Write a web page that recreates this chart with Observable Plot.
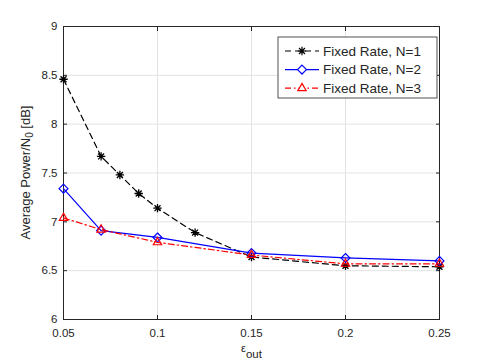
<!DOCTYPE html>
<html>
<head>
<meta charset="utf-8">
<script src="https://cdn.jsdelivr.net/npm/d3@7"></script>
<script src="https://cdn.jsdelivr.net/npm/@observablehq/plot@0.6"></script>
<style>
  html, body { margin: 0; padding: 0; background: #fff; }
  #chart svg { display: block; }
</style>
</head>
<body>
<div id="chart"></div>
<script>
// ---- data ----
const eps1 = [0.05, 0.07, 0.08, 0.09, 0.10, 0.12, 0.15, 0.20, 0.25];
const power1 = [8.46, 7.67, 7.48, 7.29, 7.14, 6.89, 6.64, 6.55, 6.54];
const eps2 = [0.05, 0.07, 0.10, 0.15, 0.20, 0.25];
const power2 = [7.34, 6.91, 6.84, 6.68, 6.63, 6.60];
const eps3 = [0.05, 0.07, 0.10, 0.15, 0.20, 0.25];
const power3 = [7.04, 6.92, 6.79, 6.66, 6.57, 6.57];
const seriesNames = ["Fixed Rate, N=1", "Fixed Rate, N=2", "Fixed Rate, N=3"];
const xTicks = [0.05, 0.1, 0.15, 0.2, 0.25];
const yTicks = [6, 6.5, 7, 7.5, 8, 8.5, 9];

const s1 = eps1.map((e, i) => ({x: e, y: power1[i]}));
const s2 = eps2.map((e, i) => ({x: e, y: power2[i]}));
const s3 = eps3.map((e, i) => ({x: e, y: power3[i]}));

// 8-arm asterisk (MATLAB '*')
const asterisk = {
  draw(context, size) {
    const r = Math.sqrt(size / Math.PI);
    for (let k = 0; k < 4; k++) {
      const a = k * Math.PI / 4;
      const dx = r * Math.cos(a), dy = r * Math.sin(a);
      context.moveTo(-dx, -dy);
      context.lineTo(dx, dy);
    }
  }
};

const axisColor = "#262626";
const W = 485, H = 363;
const mL = 63, mR = 46, mT = 26, mB = 44;

const chart = Plot.plot({
  width: W,
  height: H,
  marginLeft: mL,
  marginRight: mR,
  marginTop: mT,
  marginBottom: mB,
  style: {fontFamily: "Liberation Sans, Arial, sans-serif", fontSize: "11.5px", color: axisColor, background: "#fff"},
  x: {domain: [0.05, 0.25], ticks: xTicks, label: null},
  y: {domain: [6, 9], ticks: yTicks, label: null},
  marks: [
    Plot.gridX(xTicks, {stroke: "#e3e3e3", strokeOpacity: 1}),
    Plot.gridY(yTicks, {stroke: "#e3e3e3", strokeOpacity: 1}),
    Plot.frame({stroke: axisColor, strokeWidth: 1}),
    Plot.axisX(xTicks, {anchor: "bottom", tickSize: 0, tickPadding: 9, tickFormat: d => String(d), label: null, fill: axisColor}),
    Plot.axisX(xTicks, {anchor: "bottom", tickSize: -4, tickFormat: () => "", label: null, stroke: axisColor}),
    Plot.axisX(xTicks, {anchor: "top", tickSize: -4, tickFormat: () => "", label: null, stroke: axisColor}),
    Plot.axisY(yTicks, {anchor: "left", tickSize: 0, tickPadding: 6, tickFormat: d => String(d), label: null, fill: axisColor}),
    Plot.axisY(yTicks, {anchor: "left", tickSize: -4, tickFormat: () => "", label: null, stroke: axisColor}),
    Plot.axisY(yTicks, {anchor: "right", tickSize: -4, tickFormat: () => "", label: null, stroke: axisColor}),
    // N=1
    Plot.line(s1, {x: "x", y: "y", stroke: "#000", strokeWidth: 1.2, strokeDasharray: "6,4"}),
    Plot.dot(s1, {x: "x", y: "y", symbol: asterisk, r: 4.2, stroke: "#000", strokeWidth: 1.3, fill: "none"}),
    // N=2
    Plot.line(s2, {x: "x", y: "y", stroke: "#0000ff", strokeWidth: 1.2}),
    Plot.dot(s2, {x: "x", y: "y", symbol: "diamond2", r: 4, stroke: "#0000ff", strokeWidth: 1.2, fill: "none"}),
    // N=3
    Plot.line(s3, {x: "x", y: "y", stroke: "#ff0000", strokeWidth: 1.2, strokeDasharray: "6,3,1.5,3"}),
    Plot.dot(s3, {x: "x", y: "y", symbol: "triangle2", r: 4, stroke: "#ff0000", strokeWidth: 1.2, fill: "none"})
  ]
});

document.getElementById("chart").appendChild(chart);

// ---- axis labels with sub-scripts ----
const svg = d3.select(chart);
const font = "Liberation Sans, Arial, sans-serif";

const xl = svg.append("text")
  .attr("x", 241).attr("y", 352)
  .attr("text-anchor", "start")
  .attr("font-family", font).attr("font-size", 11).attr("fill", axisColor);
xl.append("tspan").text("ε");
xl.append("tspan").attr("dy", 6).attr("font-size", 11.5).text("out");

const yl = svg.append("text")
  .attr("transform", `translate(30,${(mT + H - mB) / 2}) rotate(-90)`)
  .attr("text-anchor", "middle")
  .attr("font-family", font).attr("font-size", 13).attr("fill", axisColor);
yl.append("tspan").text("Average Power/N");
yl.append("tspan").attr("dy", 3).attr("font-size", 10).text("0");
yl.append("tspan").attr("dy", -3).text(" [dB]");

// ---- legend ----
const lg = svg.append("g");
lg.append("rect").attr("x", 278).attr("y", 37).attr("width", 159).attr("height", 61)
  .attr("fill", "#fff").attr("stroke", axisColor).attr("stroke-width", 0.8);
const legendStyles = [
  {stroke: "#000", dash: "6,4", sym: asterisk, r: 4.2},
  {stroke: "#0000ff", dash: null, sym: d3.symbolDiamond2, r: 4},
  {stroke: "#ff0000", dash: "6,3,1.5,3", sym: d3.symbolTriangle2, r: 4}
];
seriesNames.forEach((name, i) => {
  const cy = 51 + i * 18.6;
  const st = legendStyles[i];
  lg.append("line").attr("x1", 285).attr("x2", 319).attr("y1", cy).attr("y2", cy)
    .attr("stroke", st.stroke).attr("stroke-width", 1.2)
    .attr("stroke-dasharray", st.dash);
  lg.append("path").attr("transform", `translate(302,${cy})`)
    .attr("d", d3.symbol(st.sym, Math.PI * st.r * st.r)())
    .attr("fill", i === 0 ? "none" : "#fff").attr("stroke", st.stroke).attr("stroke-width", 1.2);
  lg.append("text").attr("x", 323).attr("y", cy).attr("dy", "0.35em")
    .attr("text-anchor", "start")
    .attr("font-family", font).attr("font-size", 13.5).attr("fill", axisColor).text(name);
});
</script>
</body>
</html>
